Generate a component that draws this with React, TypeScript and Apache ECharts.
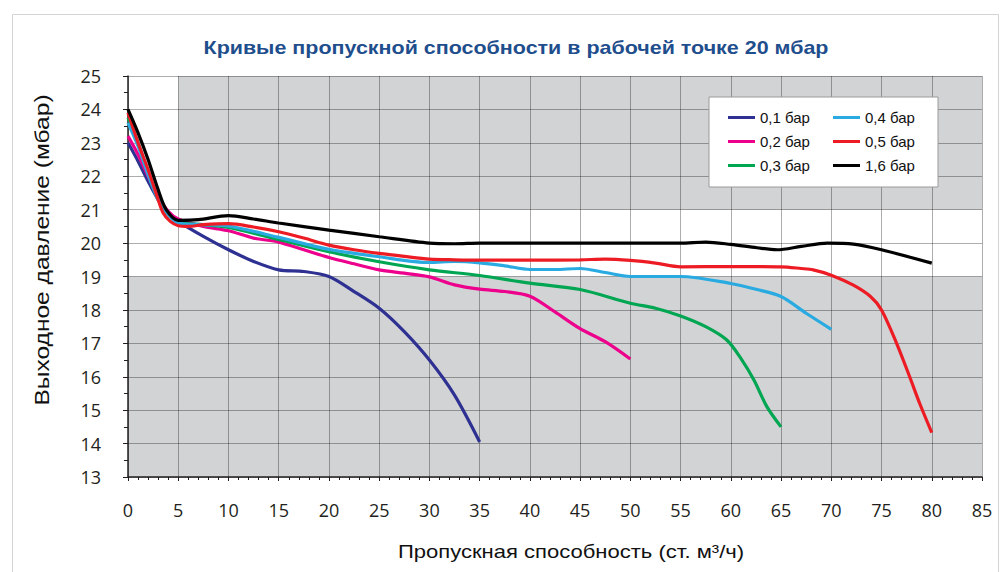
import React, { useEffect, useRef } from "react";
import * as echarts from "echarts";

const titleText = "Кривые пропускной способности в рабочей точке 20 мбар";
const xAxisName = "Пропускная способность (ст. м³/ч)";
const yAxisName = "Выходное давление (мбар)";

const seriesNames = ["0,1 бар", "0,2 бар", "0,3 бар", "0,4 бар", "0,5 бар", "1,6 бар"];
const seriesColors = ["#2e3192", "#ec008c", "#00a651", "#29abe2", "#ed1c24", "#000000"];

const bar01: [number, number][] = [
  [0, 23.0], [1, 22.45], [2, 21.85], [3, 21.3], [4, 20.9], [5, 20.65], [7.5, 20.2],
  [10, 19.8], [12.5, 19.45], [15, 19.2], [17.5, 19.15], [20, 19.0], [22.5, 18.55],
  [25, 18.05], [27.5, 17.35], [30, 16.5], [32.5, 15.45], [35, 14.05],
];
const bar02: [number, number][] = [
  [0, 23.2], [1, 22.65], [2, 22.0], [3, 21.4], [4, 20.95], [5, 20.72], [7.5, 20.5],
  [10, 20.37], [12.5, 20.15], [15, 20.03], [17.5, 19.8], [20, 19.57], [22.5, 19.38],
  [25, 19.2], [27.5, 19.1], [30, 18.99], [32.5, 18.75], [35, 18.62], [37.5, 18.55],
  [40, 18.41], [42.5, 17.94], [45, 17.44], [47.5, 17.05], [50, 16.53],
];
const bar03: [number, number][] = [
  [0, 23.75], [1, 23.0], [2, 22.1], [3, 21.3], [4, 20.85], [5, 20.62], [7.5, 20.55],
  [10, 20.47], [15, 20.11], [20, 19.74], [25, 19.44], [30, 19.2], [35, 19.03],
  [40, 18.8], [45, 18.61], [50, 18.2], [52.5, 18.05], [55, 17.82], [57.5, 17.5],
  [59.6, 17.1], [61, 16.55], [62.3, 15.9], [63.6, 15.1], [65, 14.5],
];
const bar04: [number, number][] = [
  [0, 23.6], [1, 22.9], [2, 22.05], [3, 21.3], [4, 20.85], [5, 20.6], [7.5, 20.55],
  [10, 20.51], [15, 20.17], [20, 19.81], [25, 19.59], [30, 19.42], [32.5, 19.45],
  [35, 19.41], [37.5, 19.32], [40, 19.21], [42.5, 19.21], [45, 19.24], [47.5, 19.12],
  [50, 19.0], [55, 19.0], [60, 18.79], [62.6, 18.61], [65, 18.4], [67.5, 17.9], [70, 17.42],
];
const bar05: [number, number][] = [
  [0, 23.9], [1, 23.0], [2, 22.2], [3, 21.3], [3.5, 20.9], [4.2, 20.65], [5, 20.52],
  [6, 20.5], [7.5, 20.55], [10, 20.58], [12.5, 20.48], [15, 20.34], [17.5, 20.15],
  [20, 19.94], [22.5, 19.8], [25, 19.69], [27.5, 19.6], [30, 19.52], [32.5, 19.5],
  [35, 19.49], [40, 19.49], [45, 19.5], [47.5, 19.52], [50, 19.48], [52.5, 19.4],
  [55, 19.29], [60, 19.3], [65, 19.29], [67, 19.24], [68.2, 19.2], [70, 19.04],
  [72.2, 18.74], [73.9, 18.4], [75, 18.0], [76.5, 17.0], [77.8, 16.0], [78.8, 15.2], [80, 14.33],
];
const bar16: [number, number][] = [
  [0, 24.0], [1, 23.3], [2, 22.5], [3, 21.6], [3.8, 21.0], [5, 20.68], [7, 20.7],
  [10, 20.82], [12.5, 20.72], [15, 20.6], [20, 20.39], [25, 20.19], [30, 20.0],
  [32.5, 19.98], [35, 20.0], [40, 20.0], [45, 20.0], [50, 20.0], [55, 20.0],
  [57.5, 20.03], [60, 19.96], [62.6, 19.86], [64.6, 19.8], [67, 19.9], [69.6, 20.0],
  [72.2, 19.97], [75, 19.8], [80, 19.4],
];
const seriesData = [bar01, bar02, bar03, bar04, bar05, bar16];

const xMin = 0, xMax = 85, xStep = 5;
const yMin = 13, yMax = 25, yStep = 1;
const grayBands = [
  { x0: 5, y0: 21, x1: 85, y1: 25 },
  { x0: 0, y0: 13, x1: 85, y1: 19 },
];

export default function App() {
  const ref = useRef<HTMLDivElement>(null);
  useEffect(() => {
    if (!ref.current) return;
    const chart = echarts.init(ref.current, null, { renderer: "svg" });
    const lineSeries = seriesNames.map((name, i) => ({
      name,
      type: "line",
      data: seriesData[i],
      smooth: 0.3,
      showSymbol: false,
      symbol: "none",
      z: 5,
      lineStyle: { color: seriesColors[i], width: 3.2 },
      itemStyle: { color: seriesColors[i] },
    }));
    const legendCommon = {
      orient: "vertical",
      icon: "rect",
      itemWidth: 27,
      itemHeight: 3,
      itemGap: 9,
      top: 105,
      textStyle: { fontFamily: "Liberation Sans, Arial", fontSize: 15, color: "#111" },
      z: 10,
    };
    chart.setOption({
      animation: false,
      backgroundColor: "#ffffff",
      grid: { left: 128, right: 21, top: 76, bottom: 95 },
      xAxis: {
        type: "value",
        min: xMin,
        max: xMax,
        interval: xStep,
        z: 2,
        axisLine: { show: true, onZero: false, lineStyle: { color: "#231f20", width: 1.5 } },
        axisTick: { show: true, length: 4, lineStyle: { color: "#231f20" } },
        minorTick: { show: true, splitNumber: 5, length: 3, lineStyle: { color: "#231f20" } },
        splitLine: { show: true, lineStyle: { color: "rgba(0,0,0,0.32)", width: 1 } },
        axisLabel: { margin: 24, fontSize: 18, color: "#231f20", fontFamily: "Open Sans" },
      },
      yAxis: {
        type: "value",
        min: yMin,
        max: yMax,
        interval: yStep,
        z: 2,
        axisLine: { show: true, onZero: false, lineStyle: { color: "#231f20", width: 1.5 } },
        axisTick: { show: true, length: 5, lineStyle: { color: "#231f20" } },
        minorTick: { show: true, splitNumber: 2, length: 4, lineStyle: { color: "#231f20" } },
        splitLine: { show: true, lineStyle: { color: "rgba(0,0,0,0.32)", width: 1 } },
        axisLabel: { margin: 27, fontSize: 18, color: "#231f20", fontFamily: "Open Sans" },
      },
      legend: [
        { ...legendCommon, left: 723, data: seriesNames.slice(0, 3) },
        { ...legendCommon, left: 828, data: seriesNames.slice(3, 6) },
      ],
      graphic: [
        {
          type: "rect",
          left: 10,
          top: 12,
          shape: { width: 986, height: 600 },
          style: { fill: "none", stroke: "#d4d4d4", lineWidth: 1 },
          z: 0,
          silent: true,
        },
        {
          type: "text",
          x: 516,
          y: 47,
          scaleX: 1.13,
          style: {
            text: titleText,
            fill: "#1f4e8d",
            font: "bold 19px 'Liberation Sans', Arial",
            textAlign: "center",
            textVerticalAlign: "middle",
          },
        },
        {
          type: "text",
          x: 571,
          y: 551,
          scaleX: 1.16,
          style: {
            text: xAxisName,
            fill: "#111",
            font: "19px 'Liberation Sans', Arial",
            textAlign: "center",
            textVerticalAlign: "middle",
          },
        },
        {
          type: "text",
          x: 42,
          y: 250,
          rotation: Math.PI / 2,
          scaleX: 1.17,
          style: {
            text: yAxisName,
            fill: "#111",
            font: "21px 'Liberation Sans', Arial",
            textAlign: "center",
            textVerticalAlign: "middle",
          },
        },
        {
          type: "rect",
          x: 709,
          y: 97,
          shape: { width: 229, height: 90 },
          style: { fill: "#ffffff", stroke: "#9a9a9a", lineWidth: 1 },
          z: 8,
          silent: true,
        },
      ],
      series: [
        {
          type: "line",
          data: [],
          z: 1,
          silent: true,
          markArea: {
            silent: true,
            z: 1,
            itemStyle: { color: "#d1d3d4" },
            data: grayBands.map((b) => [
              { xAxis: b.x0, yAxis: b.y0 },
              { xAxis: b.x1, yAxis: b.y1 },
            ]),
          },
        },
        ...lineSeries,
      ],
    });
    return () => chart.dispose();
  }, []);
  return (
    <div
      ref={ref}
      style={{ position: "fixed", left: 0, top: 0, width: 1003, height: 572 }}
    />
  );
}
